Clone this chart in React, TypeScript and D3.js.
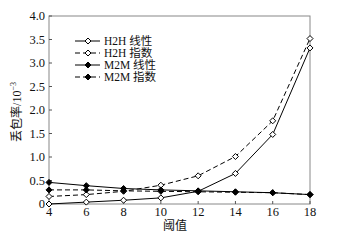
import React from "react";
import * as d3 from "d3";

const thresholds = [4, 6, 8, 10, 12, 14, 16, 18];
const h2hLinear = [0.0, 0.04, 0.08, 0.13, 0.27, 0.65, 1.48, 3.32];
const h2hExp = [0.16, 0.2, 0.27, 0.4, 0.6, 1.01, 1.77, 3.52];
const m2mLinear = [0.46, 0.39, 0.33, 0.3, 0.28, 0.26, 0.24, 0.2];
const m2mExp = [0.3, 0.3, 0.28, 0.27, 0.26, 0.25, 0.24, 0.2];
const xTicks = [4, 6, 8, 10, 12, 14, 16, 18];
const yTicks = [0, 0.5, 1.0, 1.5, 2.0, 2.5, 3.0, 3.5, 4.0];
const seriesNames = ["H2H 线性", "H2H 指数", "M2M 线性", "M2M 指数"];

const W = 340, H = 242;
const L = 49, R = 310, T = 16, B = 204;
const FONT = "'Liberation Serif', 'Times New Roman', 'DejaVu Serif', serif";
const CJK = "'Liberation Serif', 'Noto Sans CJK SC', serif";

export default function App() {
  const x = d3.scaleLinear().domain([4, 18]).range([L, R]);
  const y = d3.scaleLinear().domain([0, 4]).range([B, T]);
  const line = d3.line<number>().x((_, i) => x(thresholds[i])).y((d) => y(d));

  const series = [
    { name: seriesNames[0], data: h2hLinear, dash: "", filled: false },
    { name: seriesNames[1], data: h2hExp, dash: "5,3", filled: false },
    { name: seriesNames[2], data: m2mLinear, dash: "", filled: true },
    { name: seriesNames[3], data: m2mExp, dash: "5,3", filled: true },
  ];

  const marker = (cx: number, cy: number, filled: boolean, key: string) => {
    const s = 3;
    return (
      <path
        key={key}
        d={`M${cx},${cy - s}L${cx + s},${cy}L${cx},${cy + s}L${cx - s},${cy}Z`}
        fill={filled ? "#000" : "#fff"}
        stroke="#000"
        strokeWidth={1}
      />
    );
  };

  return (
    <svg width={W} height={H} style={{ position: "absolute", left: 0, top: 0, background: "#fff" }}>
      <rect x={0} y={0} width={W} height={H} fill="#fff" />
      <rect x={L} y={T} width={R - L} height={B - T} fill="none" stroke="#888" strokeWidth={1} />
      {yTicks.map((t) => (
        <g key={"y" + t}>
          <line x1={L} x2={L + 3} y1={y(t)} y2={y(t)} stroke="#555" />
          <text x={L - 4} y={y(t)} dy="0.35em" textAnchor="end" fontFamily={FONT} fontSize={12.5} fill="#111">
            {t === 0 ? "0" : t.toFixed(1)}
          </text>
        </g>
      ))}
      {xTicks.map((t) => (
        <g key={"x" + t}>
          <line x1={x(t)} x2={x(t)} y1={B} y2={B - 3} stroke="#555" />
          <text x={x(t)} y={B + 12} textAnchor="middle" fontFamily={FONT} fontSize={12.5} fill="#111">
            {t}
          </text>
        </g>
      ))}
      {series.map((s, si) => (
        <g key={"s" + si}>
          <path d={line(s.data) || ""} fill="none" stroke="#000" strokeWidth={1} strokeDasharray={s.dash} />
          {s.data.map((v, i) => marker(x(thresholds[i]), y(v), s.filled, `m${si}-${i}`))}
        </g>
      ))}
      {series.map((s, i) => {
        const ly = 41 + i * 12;
        return (
          <g key={"l" + i}>
            <line x1={75} x2={100} y1={ly} y2={ly} stroke="#000" strokeDasharray={s.dash} />
            {marker(88, ly, s.filled, "lm" + i)}
            <text x={104} y={ly} dy="0.35em" fontFamily={CJK} fontSize={11.5} fill="#111">
              {s.name}
            </text>
          </g>
        );
      })}
      <text x={175} y={230} textAnchor="middle" fontFamily={CJK} fontSize={12} fill="#111">
        阈值
      </text>
      <text
        transform={`translate(21,${(T + B) / 2 + 2}) rotate(-90)`}
        textAnchor="middle"
        fontFamily={CJK}
        fontSize={12}
        fill="#111"
      >
        丢包率/10<tspan dy={-5} fontSize={8}>−3</tspan>
      </text>
    </svg>
  );
}
